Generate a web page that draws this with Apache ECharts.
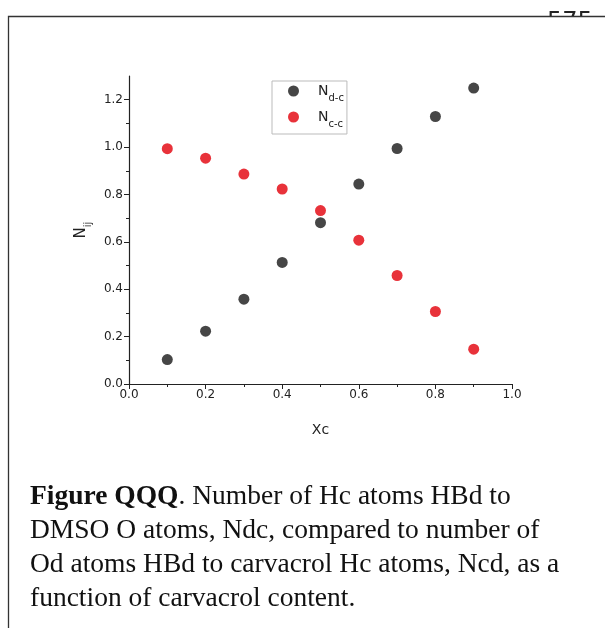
<!DOCTYPE html>
<html>
<head>
<meta charset="utf-8">
<style>
html,body{margin:0;padding:0;background:#fff;}
#c{width:605px;height:628px;}
</style>
<script src="https://cdn.jsdelivr.net/npm/echarts@6/dist/echarts.min.js"></script>
</head>
<body>
<div id="c"></div>
<script>
var xValues = [0.1, 0.2, 0.3, 0.4, 0.5, 0.6, 0.7, 0.8, 0.9];
var ndc = [0.103, 0.223, 0.358, 0.513, 0.681, 0.844, 0.994, 1.129, 1.249];
var ncc = [0.993, 0.953, 0.886, 0.823, 0.732, 0.607, 0.458, 0.306, 0.147];
var yMajorTicks = [0, 0.2, 0.4, 0.6, 0.8, 1.0, 1.2];
var yMinorTicks = [0.1, 0.3, 0.5, 0.7, 0.9, 1.1];
var captionLines = [
  '{b|Figure QQQ}{r|. Number of Hc atoms HBd to}',
  '{r|DMSO O atoms, Ndc, compared to number of}',
  '{r|Od atoms HBd to carvacrol Hc atoms, Ncd, as a}',
  '{r|function of carvacrol content.}'
];

function pairs(xs, ys){ return xs.map(function(x,i){ return [x, ys[i]]; }); }

var chart = echarts.init(document.getElementById('c'), null, {renderer:'canvas'});
var axisColor = '#222';
var labelStyle = {color:'#222', fontFamily:'DejaVu Sans', fontSize:12};
var capFont = 'Liberation Serif';
var capSize = 27.5;

var graphics = [
  {type:'text', z:-20, left:547, top:11, style:{text:'575', font:'24px DejaVu Sans', fill:'#222'}},
  {type:'rect', z:-10, shape:{x:8.5, y:16.5, width:800, height:800}, style:{fill:'#fff', stroke:'#333', lineWidth:1.3}}
];
captionLines.forEach(function(t, i){
  graphics.push({
    type:'text', z:5, x:30, y:497 + i*34,
    style:{
      text:t, verticalAlign:'middle', align:'left',
      rich:{
        b:{fontFamily:capFont, fontSize:capSize, fontWeight:'bold', fill:'#111', lineHeight:32},
        r:{fontFamily:capFont, fontSize:capSize, fill:'#111', lineHeight:32}
      }
    }
  });
});

chart.setOption({
  backgroundColor:'#fff',
  animation:false,
  graphic:graphics,
  grid:{left:129, right:93, top:76, bottom:244, containLabel:false},
  legend:{
    orient:'vertical', left:272, top:81,
    padding:[3, 3, 5, 16], itemGap:7, itemWidth:11, itemHeight:11,
    borderColor:'#bbb', borderWidth:1,
    icon:'circle',
    data:['Nd-c','Nc-c'],
    formatter:function(n){ return '{n|N}{s|' + n.slice(1) + '}'; },
    textStyle:{
      rich:{
        n:{fontFamily:'DejaVu Sans', fontSize:14, color:'#222', lineHeight:18, padding:[0,0,0,14]},
        s:{fontFamily:'DejaVu Sans', fontSize:10, color:'#222', lineHeight:18, verticalAlign:'bottom', padding:[0,0,-3,0]}
      }
    }
  },
  xAxis:{
    type:'value', min:0, max:1, interval:0.2,
    name:'Xc', nameLocation:'middle', nameGap:39,
    nameTextStyle:{fontFamily:'DejaVu Sans', fontSize:14, color:'#222'},
    axisLine:{lineStyle:{color:axisColor, width:1.2}},
    axisTick:{inside:false, length:5, lineStyle:{color:axisColor}},
    minorTick:{show:true, splitNumber:2, length:3, lineStyle:{color:axisColor}},
    splitLine:{show:false},
    axisLabel:Object.assign({margin:5, formatter:function(v){return v.toFixed(1);}}, labelStyle)
  },
  yAxis:[{
    type:'value', min:0, max:1.3, interval:0.1,
    name:'{n|N}{s|ij}', nameLocation:'middle', nameGap:34, nameRotate:90,
    nameTextStyle:{rich:{
      n:{fontFamily:'DejaVu Sans', fontSize:15, color:'#222', lineHeight:18},
      s:{fontFamily:'DejaVu Sans', fontSize:10, color:'#222', lineHeight:18, verticalAlign:'bottom', padding:[0,0,-3,0]}
    }},
    axisLine:{show:true, lineStyle:{color:axisColor, width:1.2}},
    axisTick:{show:true, inside:false, length:5, customValues:yMajorTicks, lineStyle:{color:axisColor}},
    splitLine:{show:false},
    axisLabel:Object.assign({margin:6, customValues:yMajorTicks, formatter:function(v){return v.toFixed(1);}}, labelStyle)
  },{
    type:'value', min:0, max:1.3, position:'left', offset:0,
    axisLine:{show:false},
    axisTick:{show:true, inside:false, length:3, customValues:yMinorTicks, lineStyle:{color:axisColor}},
    axisLabel:{show:false},
    splitLine:{show:false}
  }],
  series:[
    {name:'Nd-c', type:'scatter', symbolSize:11, itemStyle:{color:'#464646', opacity:1}, data:pairs(xValues, ndc)},
    {name:'Nc-c', type:'scatter', symbolSize:11, itemStyle:{color:'#e8323a', opacity:1}, data:pairs(xValues, ncc)}
  ]
});
</script>
</body>
</html>
